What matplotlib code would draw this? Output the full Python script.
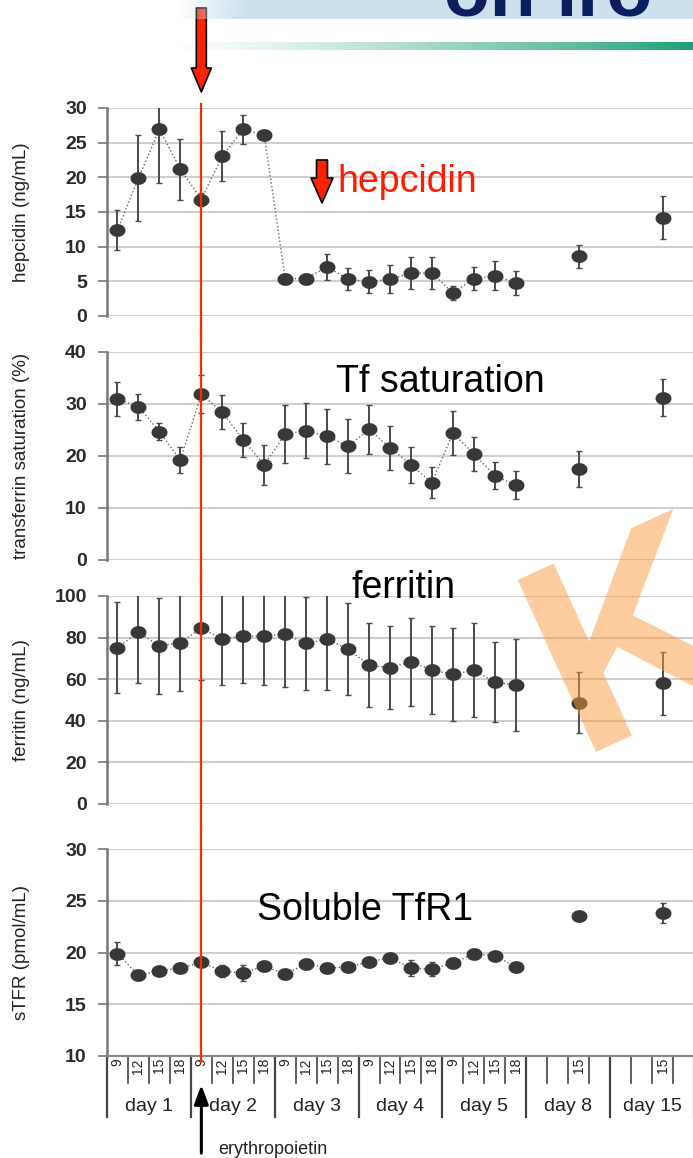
import numpy as np
import matplotlib.pyplot as plt
from matplotlib import font_manager
from matplotlib.path import Path
from matplotlib.patches import Rectangle

nan = np.nan

# x axis: 4 time slots per day, only 15 h sampled on day 8 and day 15
days = ["day 1", "day 2", "day 3", "day 4", "day 5", "day 8", "day 15"]
hours = ["9", "12", "15", "18"] * 5 + ["", "", "15", ""] * 2
n_cont = 20          # slots joined by the dotted line (day 1 - day 5)
epo_idx = 4          # erythropoietin given at day 2, 9 h

hep_mean = [12.4, 19.9, 26.9, 21.2, 16.8, 23.1, 26.9, 26.1, 5.4, 5.4,
            7.1, 5.3, 4.95, 5.3, 6.2, 6.2, 3.3, 5.4, 5.8, 4.8,
            nan, nan, 8.6, nan, nan, nan, 14.2, nan]
hep_err = [2.9, 6.2, 7.7, 4.4, 1.0, 3.6, 2.05, 0.6, 0.5, 0.7,
           1.9, 1.6, 1.65, 2.0, 2.3, 2.25, 1.0, 1.65, 2.1, 1.7,
           nan, nan, 1.7, nan, nan, nan, 3.1, nan]

tf_mean = [30.9, 29.5, 24.7, 19.2, 31.9, 28.4, 23.1, 18.3, 24.2, 24.9,
           23.8, 21.9, 25.1, 21.6, 18.3, 14.9, 24.4, 20.4, 16.2, 14.4,
           nan, nan, 17.5, nan, nan, nan, 31.2, nan]
tf_err = [3.3, 2.5, 1.6, 2.45, 3.6, 3.25, 3.3, 3.9, 5.6, 5.3,
          5.3, 5.25, 4.7, 4.25, 3.5, 2.9, 4.2, 3.25, 2.6, 2.65,
          nan, nan, 3.5, nan, nan, nan, 3.6, nan]

fer_mean = [75.2, 82.5, 76.0, 77.6, 84.5, 79.2, 80.8, 80.8, 81.6, 77.2,
            79.3, 74.4, 66.8, 65.5, 68.4, 64.4, 62.3, 64.4, 58.5, 57.2,
            nan, nan, 48.7, nan, nan, nan, 58.0, nan]
fer_err = [21.9, 24.5, 23.1, 23.1, 24.9, 22.0, 22.8, 23.6, 25.2, 22.4,
           24.5, 22.2, 20.3, 19.9, 21.1, 21.1, 22.2, 22.6, 19.2, 22.0,
           nan, nan, 14.8, nan, nan, nan, 15.2, nan]

stfr_mean = [19.9, 17.8, 18.2, 18.5, 19.05, 18.2, 18.0, 18.7, 17.9, 18.9,
             18.5, 18.6, 19.1, 19.5, 18.5, 18.4, 19.0, 19.85, 19.7, 18.6,
             nan, nan, 23.5, nan, nan, nan, 23.8, nan]
stfr_err = [1.1, 0.3, 0.4, 0.4, 0.4, 0.6, 0.8, 0.4, 0.2, 0.2,
            0.2, 0.2, 0.3, 0.4, 0.75, 0.7, 0.4, 0.2, 0.2, 0.2,
            nan, nan, 0.2, nan, nan, nan, 0.95, nan]

plt.rcParams['font.family'] = ['Liberation Sans', 'DejaVu Sans']
names = {f.name for f in font_manager.fontManager.ttflist}
if 'Liberation Sans Narrow' in names:
    lab_font, lab_size = ['Liberation Sans Narrow', 'Liberation Sans'], 16
else:
    lab_font, lab_size = ['Liberation Sans', 'DejaVu Sans'], 13.5

W, H = 693, 1158
fig = plt.figure(figsize=(W / 100, H / 100), dpi=100)

t = np.linspace(0, 2 * np.pi, 41)
ell = Path(np.column_stack([np.cos(t), 0.78 * np.sin(t)]))

panels = [
    (hep_mean, hep_err, (0, 30), np.arange(0, 31, 5), "hepcidin (ng/mL)", 108, 316),
    (tf_mean, tf_err, (0, 40), np.arange(0, 41, 10), "transferrin saturation (%)", 352, 560),
    (fer_mean, fer_err, (0, 100), np.arange(0, 101, 20), "ferritin (ng/mL)", 596, 804),
    (stfr_mean, stfr_err, (10, 30), np.arange(10, 31, 5), "sTFR (pmol/mL)", 849, 1056),
]

x = np.arange(len(hours))
axes = []
for k, (mean, err, ylim, yt, lab, top, bot) in enumerate(panels):
    ax = fig.add_axes([107 / W, 1 - bot / H, 587 / W, (bot - top) / H])
    ax.set_facecolor('none')
    ax.errorbar(x, mean, yerr=err, fmt='none', ecolor='#4a4a4a',
                elinewidth=1.4, capsize=2.2, capthick=1.0, zorder=3)
    ax.plot(x[:n_cont], mean[:n_cont], ls=':', color='#666', lw=1.0, zorder=2)
    ax.plot(x, mean, ls='none', marker=ell, ms=10.5, color='#383838', zorder=4)
    ax.set_xlim(-0.5, len(hours) - 0.5)
    ax.set_ylim(*ylim)
    ax.set_yticks(yt)
    ax.set_xticks([])
    ax.yaxis.grid(True, color='#cfcfcf', lw=1.5)
    ax.set_axisbelow(True)
    for s in ['top', 'right', 'bottom']:
        ax.spines[s].set_visible(False)
    ax.spines['left'].set_color('#777')
    ax.spines['left'].set_linewidth(1.8)
    ax.tick_params(axis='y', direction='out', length=6.5, width=1.2, color='#777',
                   pad=8, labelsize=14, labelcolor='#2a2a2a')
    for tl in ax.get_yticklabels():
        tl.set_fontweight('bold')
    ax.set_ylabel(lab, fontfamily=lab_font, fontsize=lab_size, color='#222', va='center')
    ax.yaxis.set_label_coords(-0.145, 0.5)
    lo = -0.03 if k == len(panels) - 1 else -0.12
    hi = 1.02 if k == 0 else 1.12
    ax.axvline(epo_idx, lo, hi, color='#ff2a00', lw=1.6, clip_on=False, zorder=6)
    axes.append(ax)

# category axis under the last panel
ax4 = axes[-1]
ax4.spines['bottom'].set_visible(True)
ax4.spines['bottom'].set_color('#888')
ax4.spines['bottom'].set_linewidth(1.5)
tr = ax4.get_xaxis_transform()
for i, h in enumerate(hours):
    ax4.text(i, -0.01, h, rotation=90, ha='center', va='top', fontsize=10,
             color='#222', transform=tr)
for k in range(len(hours) + 1):
    ax4.plot([k - 0.5, k - 0.5], [0, -0.13], transform=tr, color='#444',
             lw=1.2, clip_on=False)
for g, d in enumerate(days + [None]):
    ax4.plot([4 * g - 0.5, 4 * g - 0.5], [0, -0.295], transform=tr, color='#444',
             lw=1.6, clip_on=False)
    if d:
        ax4.text(4 * g + 1.5, -0.246, d, ha='center', va='center', fontsize=14,
                 color='#222', transform=tr)

ax4.annotate('', xy=(epo_idx, -0.14), xytext=(epo_idx, -0.469),
             xycoords=tr, textcoords=tr, annotation_clip=False,
             arrowprops=dict(arrowstyle='-|>,head_length=0.8,head_width=0.3',
                             mutation_scale=14.4, lw=2.2, color='black',
                             shrinkA=0, shrinkB=0))
ax4.text(epo_idx + 0.8, -0.452, "erythropoietin", transform=tr, ha='left',
         va='center', fontsize=13, color='#222')

tr1 = axes[0].get_xaxis_transform()
axes[0].annotate('', xy=(epo_idx, 1.077), xytext=(epo_idx, 1.481),
                 xycoords=tr1, textcoords=tr1, annotation_clip=False,
                 arrowprops=dict(arrowstyle='simple,head_length=1.2,head_width=1.0,tail_width=0.5',
                                 mutation_scale=14.4, fc='#ff2200', ec='black', lw=1.2,
                                 shrinkA=0, shrinkB=0))

# slide decoration, pixel coordinates
ov = fig.add_axes([0, 0, 1, 1], zorder=10)
ov.patch.set_visible(False)
band = np.zeros((1, 256, 4))
band[..., :3] = np.array([205, 224, 238]) / 255
band[..., 3] = np.linspace(0, 1, 256)
ov.imshow(band, extent=[177, 247, 19, 0], aspect='auto')
ov.add_patch(Rectangle((247, 0), 446, 19, color='#cde0ee', lw=0))
green = np.zeros((1, 256, 4))
green[..., :3] = np.array([31, 160, 122]) / 255
green[..., 3] = np.linspace(0, 1, 256) ** 1.3
ov.imshow(green, extent=[163, 693, 50, 42], aspect='auto')
ov.text(444, 16, "on iro", fontsize=54, fontweight='bold', color='#0b1f5e',
        va='baseline', ha='left')

ov.text(578, 752, "K", fontsize=198, fontweight='bold', color='#fb9a3c', alpha=0.5,
        rotation=24.5, rotation_mode='anchor', ha='left', va='baseline')

ov.text(337, 192, "hepcidin", fontsize=27, color='#ff1a00', va='baseline')
ov.text(336, 392, "Tf saturation", fontsize=27, color='black', va='baseline')
ov.text(352, 598, "ferritin", fontsize=27, color='black', va='baseline')
ov.text(257, 920, "Soluble TfR1", fontsize=27, color='black', va='baseline')
ov.annotate('', xy=(322, 203), xytext=(322, 160), annotation_clip=False,
            arrowprops=dict(arrowstyle='simple,head_length=1.25,head_width=1.1,tail_width=0.55',
                            mutation_scale=14.4, fc='#ff2200', ec='black', lw=1.2,
                            shrinkA=0, shrinkB=0))
ov.set_xlim(0, W)
ov.set_ylim(H, 0)
ov.axis('off')

fig.savefig("out.png", dpi=100)
